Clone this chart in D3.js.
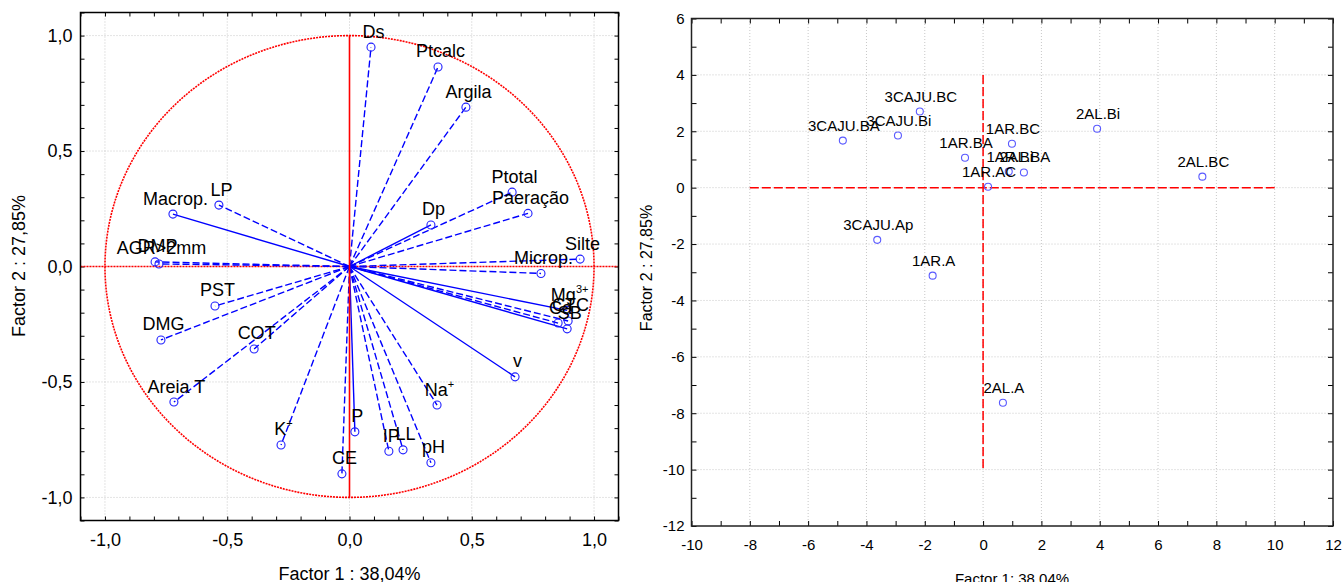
<!DOCTYPE html>
<html><head><meta charset="utf-8">
<script src="https://cdn.jsdelivr.net/npm/d3@7"></script>
<style>
body{margin:0;background:#fff;}
text{font-family:"Liberation Sans",Arial,sans-serif;fill:#000;}
</style></head>
<body><svg id="c" width="1344" height="582"></svg>
<script>
// ---------- Left chart: variable loadings ----------
const varNames = ["Ds","Ptcalc","Argila","Ptotal","Paeração","Dp","Silte","Microp.","Mg","CTC","Ca","SB","v","Na","pH","LL","IP","P","CE","K","Areia T","COT","DMG","PST","DMP","AGR>2mm","Macrop.","LP"];
const varSup   = ["","","","","","","","","3+","","","","","+","","","","","","+","","","","","","","",""];
const factor1  = [0.088,0.362,0.476,0.665,0.730,0.333,0.943,0.783,0.890,0.894,0.853,0.890,0.677,0.358,0.333,0.219,0.161,0.022,-0.031,-0.280,-0.718,-0.390,-0.771,-0.550,-0.795,-0.779,-0.722,-0.534];
const factor2  = [0.950,0.864,0.690,0.322,0.230,0.180,0.032,-0.030,-0.190,-0.236,-0.245,-0.270,-0.478,-0.600,-0.850,-0.794,-0.800,-0.716,-0.898,-0.773,-0.587,-0.357,-0.318,-0.171,0.020,0.011,0.227,0.266];
const solidVars = ["Macrop.","Dp","Mg","SB","v","P"];
const leftTicks = [-1.0,-0.5,0.0,0.5,1.0];

// ---------- Right chart: case scores ----------
const caseNames = ["3CAJU.BA","3CAJU.Bi","3CAJU.BC","1AR.BA","1AR.BC","1AR.Bi","2AL.BA","1AR.AC","2AL.Bi","2AL.BC","3CAJU.Ap","1AR.A","2AL.A"];
const score1    = [-4.81,-2.92,-2.17,-0.62,0.99,0.88,1.40,0.17,3.91,7.52,-3.63,-1.73,0.68];
const score2    = [1.67,1.85,2.70,1.06,1.56,0.57,0.54,0.03,2.09,0.39,-1.85,-3.12,-7.63];
const rightXTicks = [-10,-8,-6,-4,-2,0,2,4,6,8,10,12];
const rightYTicks = [-12,-10,-8,-6,-4,-2,0,2,4,6];

const svg = d3.select("#c");
const fmtL = d => d.toFixed(1).replace(".", ",");

// ===== LEFT =====
const xL = d3.scaleLinear([-1.1,1.1],[80.5,618.5]);
const yL = d3.scaleLinear([-1.1,1.1],[520.5,12.5]);
const L = svg.append("g");

// grid
L.append("g").selectAll("line").data(leftTicks).join("line")
  .attr("x1", d=>xL(d)).attr("x2", d=>xL(d)).attr("y1", yL(-1.1)).attr("y2", yL(1.1))
  .attr("stroke","#c8c8c8").attr("stroke-dasharray","1,2");
L.append("g").selectAll("line").data(leftTicks).join("line")
  .attr("y1", d=>yL(d)).attr("y2", d=>yL(d)).attr("x1", xL(-1.1)).attr("x2", xL(1.1))
  .attr("stroke","#c8c8c8").attr("stroke-dasharray","1,2");

// inner ticks
const minorL = d3.range(-11,12).map(i=>i/10);
function innerTicks(g, xs, ys, minor, major, len){
  g.append("g").attr("transform",`translate(0,${ys.range()[0]})`)
    .call(d3.axisBottom(xs).tickValues(minor).tickSize(-len).tickFormat(""))
    .call(a=>a.select(".domain").remove());
  g.append("g").attr("transform",`translate(0,${ys.range()[1]})`)
    .call(d3.axisTop(xs).tickValues(minor).tickSize(-len).tickFormat(""))
    .call(a=>a.select(".domain").remove());
  g.append("g").attr("transform",`translate(${xs.range()[0]},0)`)
    .call(d3.axisLeft(ys).tickValues(major).tickSize(-len).tickFormat(""))
    .call(a=>a.select(".domain").remove());
  g.append("g").attr("transform",`translate(${xs.range()[1]},0)`)
    .call(d3.axisRight(ys).tickValues(major).tickSize(-len).tickFormat(""))
    .call(a=>a.select(".domain").remove());
}
innerTicks(L, xL, yL, minorL, minorL, 4);

// tick labels
L.append("g").attr("transform",`translate(0,${yL(-1.1)})`)
  .call(d3.axisBottom(xL).tickValues(leftTicks).tickSize(0).tickPadding(13).tickFormat(fmtL))
  .call(a=>{a.select(".domain").remove(); a.selectAll("text").attr("font-size",18).attr("font-family","Liberation Sans, Arial");});
L.append("g").attr("transform",`translate(${xL(-1.1)},0)`)
  .call(d3.axisLeft(yL).tickValues(leftTicks).tickSize(0).tickPadding(8).tickFormat(fmtL))
  .call(a=>{a.select(".domain").remove(); a.selectAll("text").attr("font-size",18).attr("font-family","Liberation Sans, Arial");});

// unit circle (ellipse in pixel space)
const circ = d3.range(0,361,1).map(a=>[Math.cos(a*Math.PI/180), Math.sin(a*Math.PI/180)]);
L.append("path").attr("d", d3.line().x(d=>xL(d[0])).y(d=>yL(d[1]))(circ))
  .attr("fill","none").attr("stroke","#ff0000").attr("stroke-width",1.6).attr("stroke-dasharray","2,1");
L.append("line").attr("x1",xL(-1.1)).attr("x2",xL(1.1)).attr("y1",yL(0)).attr("y2",yL(0))
  .attr("stroke","#ff0000").attr("stroke-width",1.6).attr("stroke-dasharray","2,1");

// vectors
const vars = varNames.map((n,i)=>({n, sup:varSup[i], x:factor1[i], y:factor2[i]}));
L.append("g").selectAll("line").data(vars).join("line")
  .attr("x1",xL(0)).attr("y1",yL(0)).attr("x2",d=>xL(d.x)).attr("y2",d=>yL(d.y))
  .attr("stroke","#0000ff").attr("stroke-width",1.4)
  .attr("stroke-dasharray", d=> solidVars.includes(d.n) ? null : "7,3");
L.append("line").attr("x1",xL(0)).attr("x2",xL(0)).attr("y1",yL(-1)).attr("y2",yL(1))
  .attr("stroke","#ff0000").attr("stroke-width",1.6);
L.append("g").selectAll("circle").data(vars).join("circle")
  .attr("cx",d=>xL(d.x)).attr("cy",d=>yL(d.y)).attr("r",4)
  .attr("fill","none").attr("stroke","#2020ff").attr("stroke-width",1.1);
const lt = L.append("g").selectAll("text").data(vars).join("text")
  .attr("x",d=>xL(d.x)+2.5).attr("y",d=>yL(d.y)-9.5)
  .attr("text-anchor","middle").attr("font-size",18);
lt.append("tspan").text(d=>d.n);
lt.filter(d=>d.sup).append("tspan").attr("font-size",11).attr("dy",-8).text(d=>d.sup);

// frame
L.append("rect").attr("x",xL(-1.1)).attr("y",yL(1.1)).attr("width",xL(1.1)-xL(-1.1)).attr("height",yL(-1.1)-yL(1.1))
  .attr("fill","none").attr("stroke","#000").attr("stroke-width",1.5);

// titles
L.append("text").attr("x",349.5).attr("y",579.5).attr("text-anchor","middle").attr("font-size",18).text("Factor 1 : 38,04%");
L.append("text").attr("transform","translate(25,266) rotate(-90)").attr("text-anchor","middle").attr("font-size",18).text("Factor 2 : 27,85%");

// ===== RIGHT =====
const xR = d3.scaleLinear([-10,12],[691.5,1333]);
const yR = d3.scaleLinear([-12,6],[526,18.5]);
const R = svg.append("g");
const gridX = rightXTicks.filter(d=>d>-10 && d<12);
const gridY = rightYTicks.filter(d=>d>-12 && d<6);
R.append("g").selectAll("line").data(gridX).join("line")
  .attr("x1",d=>xR(d)).attr("x2",d=>xR(d)).attr("y1",yR(-12)).attr("y2",yR(6))
  .attr("stroke","#c8c8c8").attr("stroke-dasharray","1,2");
R.append("g").selectAll("line").data(gridY).join("line")
  .attr("y1",d=>yR(d)).attr("y2",d=>yR(d)).attr("x1",xR(-10)).attr("x2",xR(12))
  .attr("stroke","#c8c8c8").attr("stroke-dasharray","1,2");
innerTicks(R, xR, yR, d3.range(-10,13,1), d3.range(-12,7,1), 5);

R.append("g").attr("transform",`translate(0,${yR(-12)})`)
  .call(d3.axisBottom(xR).tickValues(rightXTicks).tickSize(0).tickPadding(13).tickFormat(d=>String(d)))
  .call(a=>{a.select(".domain").remove(); a.selectAll("text").attr("font-size",15).attr("font-family","Liberation Sans, Arial");});
R.append("g").attr("transform",`translate(${xR(-10)},0)`)
  .call(d3.axisLeft(yR).tickValues(rightYTicks).tickSize(0).tickPadding(7).tickFormat(d=>String(d)))
  .call(a=>{a.select(".domain").remove(); a.selectAll("text").attr("font-size",15).attr("font-family","Liberation Sans, Arial");});

// red dashed axes
R.append("line").attr("x1",xR(-8)).attr("x2",xR(10)).attr("y1",yR(0)).attr("y2",yR(0))
  .attr("stroke","#ff0000").attr("stroke-width",1.5).attr("stroke-dasharray","9,3");
R.append("line").attr("x1",xR(0)).attr("x2",xR(0)).attr("y1",yR(4)).attr("y2",yR(-10))
  .attr("stroke","#ff0000").attr("stroke-width",1.5).attr("stroke-dasharray","9,3");

const cases = caseNames.map((n,i)=>({n, x:score1[i], y:score2[i]}));
R.append("g").selectAll("circle").data(cases).join("circle")
  .attr("cx",d=>xR(d.x)).attr("cy",d=>yR(d.y)).attr("r",3.5)
  .attr("fill","none").attr("stroke","#5a5aff").attr("stroke-width",1.1);
R.append("g").selectAll("text").data(cases).join("text")
  .attr("x",d=>xR(d.x)+1).attr("y",d=>yR(d.y)-10)
  .attr("text-anchor","middle").attr("font-size",15).text(d=>d.n);

R.append("rect").attr("x",xR(-10)).attr("y",yR(6)).attr("width",xR(12)-xR(-10)).attr("height",yR(-12)-yR(6))
  .attr("fill","none").attr("stroke","#222").attr("stroke-width",1.5);

R.append("text").attr("x",1012).attr("y",584).attr("text-anchor","middle").attr("font-size",15).text("Factor 1: 38,04%");
R.append("text").attr("transform","translate(652,268) rotate(-90)").attr("text-anchor","middle").attr("font-size",16).text("Factor 2 : 27,85%");
</script></body></html>
